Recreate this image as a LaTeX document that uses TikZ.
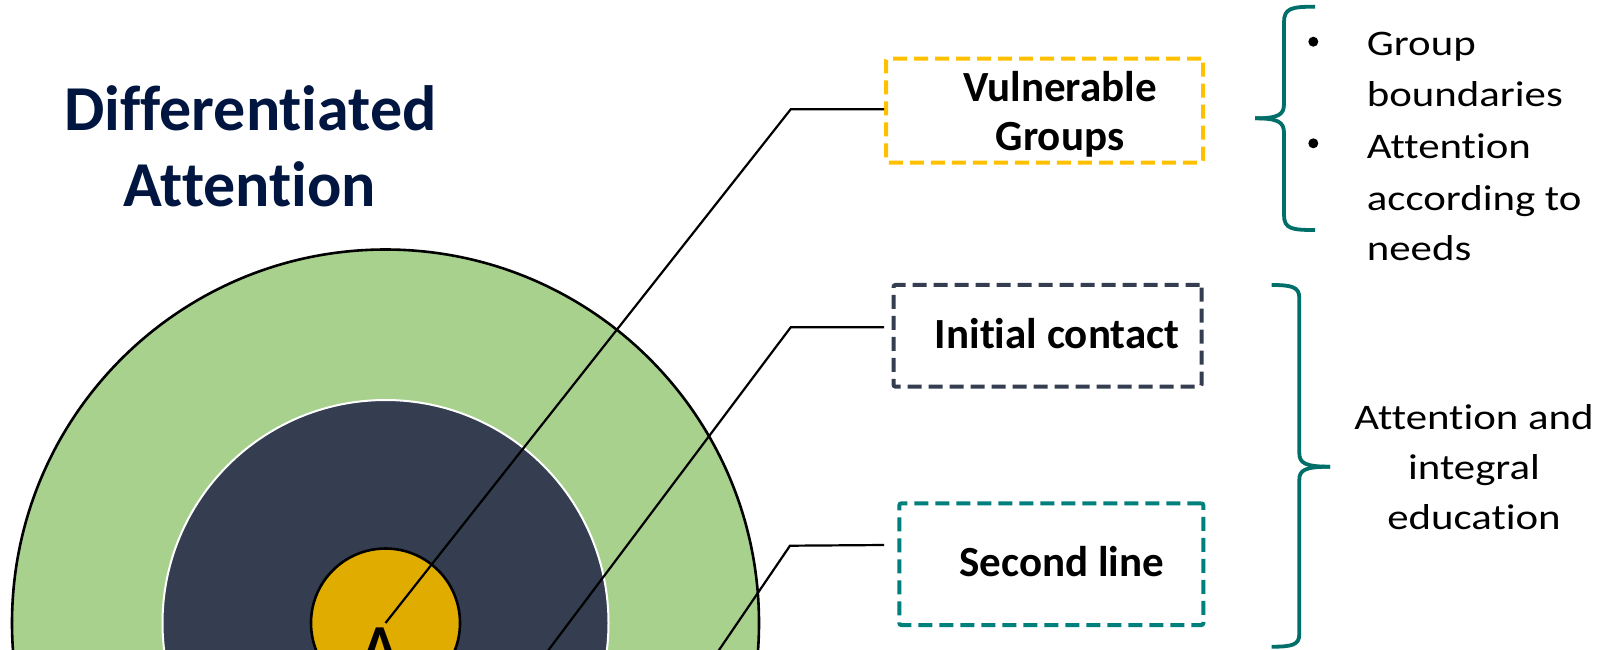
\documentclass[tikz,border=0pt]{standalone}
\usepackage{fontspec}
\setmainfont{Carlito}[Ligatures=NoCommon]
\newfontfamily\widefont{Carlito}[Ligatures=NoCommon, FakeStretch=1.19]
\definecolor{titleblue}{RGB}{0,22,64}
\definecolor{ringgreen}{RGB}{169,209,142}
\definecolor{ringdark}{RGB}{52,62,80}
\definecolor{ringyellow}{RGB}{224,172,0}
\definecolor{boxyellow}{RGB}{255,192,0}
\definecolor{boxslate}{RGB}{52,62,80}
\definecolor{boxteal}{RGB}{0,128,125}
\definecolor{braceteal}{RGB}{0,110,105}
\tikzset{
  dashbox/.style={draw, line width=4pt, dash pattern=on 14pt off 7pt, rounded corners=2pt, inner sep=0pt, fill=none},
  boxtext/.style={font=\fontsize{43}{48.3}\selectfont\bfseries, align=center, inner sep=0pt, anchor=base},
  plaintext/.style={font=\widefont\fontsize{36}{51}\selectfont, inner sep=0pt, anchor=base west},
  link/.style={draw=black, line width=2.2pt},
  bracestyle/.style={draw=braceteal, line width=3.8pt, line cap=butt},
}
\begin{document}
\begin{tikzpicture}[x=1pt,y=-1pt]
\useasboundingbox (0,0) rectangle (1605,649);
\begin{scope}
\clip (0,0) rectangle (1605,649);
% title
\node[font=\fontsize{64}{77}\selectfont\bfseries, text=titleblue, inner sep=0pt, anchor=base] (t1) at (250.5,130) {Differentiated};
\node[font=\fontsize{64}{77}\selectfont\bfseries, text=titleblue, inner sep=0pt, anchor=base] (t2) at (250,206.7) {Attention};
% rings
\node[circle, fill=ringgreen, draw=black, line width=2.6pt, minimum size=747pt, inner sep=0pt] (outer) at (385.5,623) {};
\node[circle, fill=ringdark, draw=white, line width=2pt, minimum size=446pt, inner sep=0pt] (middle) at (385.5,623) {};
\node[circle, fill=ringyellow, draw=black, line width=2.6pt, minimum size=149pt, inner sep=0pt] (inner) at (385.5,623) {};
% boxes
\node[dashbox, draw=boxyellow, minimum width=317pt, minimum height=104pt] (b1) at (1044.5,110.5) {};
\node[dashbox, draw=boxslate, minimum width=308pt, minimum height=101.7pt] (b2) at (1047.5,335.8) {};
\node[dashbox, draw=boxteal, minimum width=304pt, minimum height=121.7pt] (b3) at (1051.3,564.2) {};
\node[boxtext] (b1t) at (1060,150) {Vulnerable\\Groups};
\node[boxtext] (b2t) at (1057,348.3) {Initial contact};
\node[boxtext] (b3t) at (1061.7,576.7) {Second line};
% connectors
\coordinate (c1end) at (884,109.3);
\coordinate (c2end) at (884,327.3);
\coordinate (c3end) at (884,545);
\coordinate (k1) at (790.7,109.3);
\coordinate (k2) at (790.7,327.3);
\coordinate (k3) at (790,545.7);
\coordinate (e2) at (511,700);
\coordinate (e3) at (685,700);
\draw[link] (c1end) -- (k1) -- (inner.center);
\draw[link] (c2end) -- (k2) -- (e2);
\draw[link] (c3end) -- (k3) -- (e3);
% A
\node[font=\fontsize{58}{60}\selectfont\bfseries, inner sep=0pt, anchor=base] (alabel) at (380,665) {A};
% braces
\draw[bracestyle] (1315,6.7) .. controls (1292,6.7) and (1284,8) .. (1284,22) -- (1284,104)
  .. controls (1284,115) and (1278,118.3) .. (1255,118.3);
\draw[bracestyle] (1255,118.3) .. controls (1278,118.3) and (1284,122) .. (1284,133) -- (1284,215)
  .. controls (1284,229) and (1292,230) .. (1315,230);
\draw[bracestyle] (1271.7,285) .. controls (1292,285) and (1299.3,287) .. (1299.3,298) -- (1299.3,453)
  .. controls (1299.3,463) and (1305,466.7) .. (1330,466.7);
\draw[bracestyle] (1330,466.7) .. controls (1305,466.7) and (1299.3,470) .. (1299.3,480) -- (1299.3,634)
  .. controls (1299.3,645) and (1292,646.7) .. (1271.7,646.7);
% bullet texts
\node[circle, fill=black, inner sep=0pt, minimum size=10pt] (d1) at (1313.3,41.7) {};
\node[circle, fill=black, inner sep=0pt, minimum size=10pt] (d2) at (1313.3,143.3) {};
\node[plaintext] (g1) at (1366.7,55) {Group};
\node[plaintext] (g2) at (1366.7,106.7) {boundaries};
\node[plaintext] (g3) at (1366.7,158.3) {Attention};
\node[plaintext] (g4) at (1366.7,210) {according to};
\node[plaintext] (g5) at (1366.7,260) {needs};
% right text
\node[plaintext, anchor=base] (r1) at (1474,429.3) {Attention and};
\node[plaintext, anchor=base] (r2) at (1474,479.5) {integral};
\node[plaintext, anchor=base] (r3) at (1474,529.7) {education};
\end{scope}
\end{tikzpicture}
\end{document}
